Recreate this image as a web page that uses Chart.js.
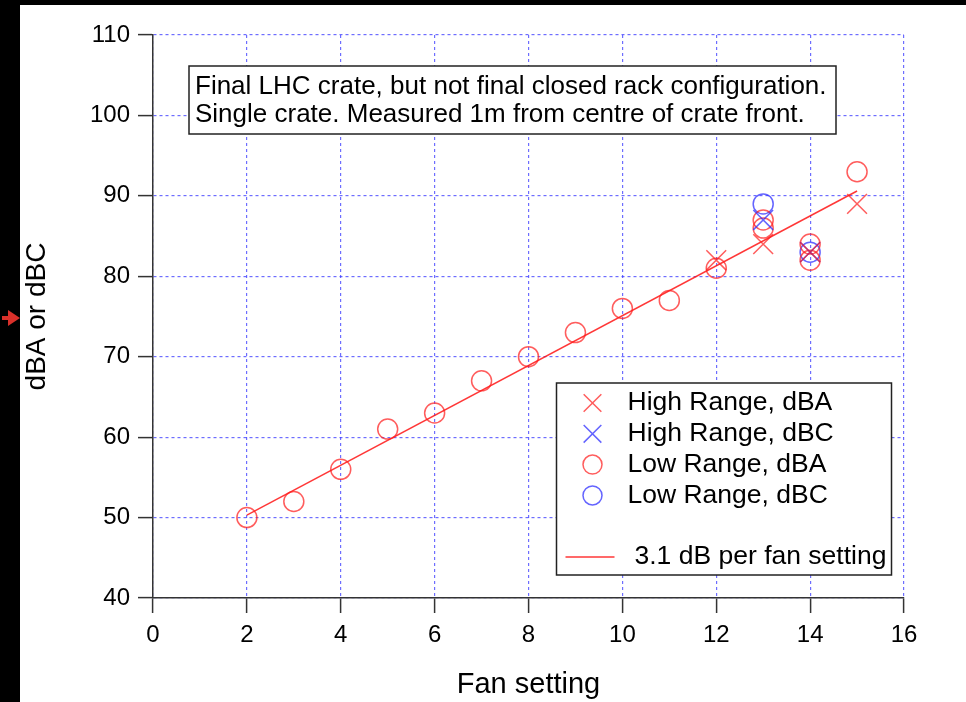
<!DOCTYPE html>
<html>
<head>
<meta charset="utf-8">
<script src="https://cdn.jsdelivr.net/npm/chart.js@4/dist/chart.umd.min.js"></script>
<style>
  html, body { margin: 0; padding: 0; background: #000; width: 966px; height: 702px; overflow: hidden; }
  #sheet { position: absolute; left: 20px; top: 5px; width: 946px; height: 697px; background: #fff; }
  #marker { position: absolute; left: 2px; top: 310px; width: 18px; height: 16px; }
  #marker .stem { position: absolute; left: 0; top: 6px; width: 7px; height: 4px; background: #d9302a; }
  #marker .head { position: absolute; left: 6px; top: 0; width: 0; height: 0;
    border-top: 8px solid transparent; border-bottom: 8px solid transparent; border-left: 12px solid #d9302a; }
</style>
</head>
<body>
<div id="marker"><div class="stem"></div><div class="head"></div></div>
<div id="sheet"><canvas id="c" width="946" height="697"></canvas></div>
<script>
// Fan setting vs. measured sound level
const xTicks = [0, 2, 4, 6, 8, 10, 12, 14, 16];
const yTicks = [40, 50, 60, 70, 80, 90, 100, 110];

const highAFan = [12, 13, 14, 15];
const highADb  = [82, 84, 83, 89];

const highCFan = [13, 14];
const highCDb  = [87, 83];

const lowAFan = [2, 3, 4, 5, 6, 7, 8, 9, 10, 11, 12, 13, 13, 14, 14, 15];
const lowADb  = [50, 52, 56, 61, 63, 67, 70, 73, 76, 77, 81, 87, 86, 84, 82, 93];

const lowCFan = [13, 14];
const lowCDb  = [89, 83];

// straight-line fit, 3.1 dB per fan step
const fitFan = [2, 15];
const fitDb  = [50.3, 90.6];

const noteLines = [
  'Final LHC crate, but not final closed rack configuration.',
  'Single crate. Measured 1m from centre of crate front.'
];

const labels = ['High Range, dBA', 'High Range, dBC', 'Low Range, dBA', 'Low Range, dBC', '3.1 dB per fan setting'];

const RED = 'rgba(255,30,30,0.72)';
const BLUE = 'rgba(40,40,255,0.72)';
const FONT = '"Liberation Sans", Arial, sans-serif';

const pts = (xs, ys) => xs.map((x, i) => ({x, y: ys[i]}));

// text box in the upper part of the plot
const noteBox = {
  id: 'noteBox',
  beforeDatasetsDraw(chart, args, o) {
    const ctx = chart.ctx;
    ctx.save();
    ctx.fillStyle = '#fff';
    ctx.fillRect(o.x, o.y, o.w, o.h);
    ctx.strokeStyle = '#222';
    ctx.lineWidth = 1.5;
    ctx.strokeRect(o.x, o.y, o.w, o.h);
    ctx.fillStyle = '#000';
    ctx.font = o.size + 'px ' + FONT;
    ctx.textBaseline = 'alphabetic';
    o.lines.forEach((t, i) => ctx.fillText(t, o.x + o.pad, o.y + o.first + i * o.lh));
    ctx.restore();
  }
};

// boxed legend inside the plot
const boxLegend = {
  id: 'boxLegend',
  beforeDatasetsDraw(chart, args, o) {
    const ctx = chart.ctx;
    ctx.save();
    ctx.fillStyle = '#fff';
    ctx.fillRect(o.x, o.y, o.w, o.h);
    ctx.strokeStyle = '#222';
    ctx.lineWidth = 1.5;
    ctx.strokeRect(o.x, o.y, o.w, o.h);
    ctx.font = o.size + 'px ' + FONT;
    ctx.textBaseline = 'middle';
    chart.data.datasets.forEach((ds, i) => {
      const isLine = ds.showLine;
      const row = isLine ? i + 1 : i;
      const cy = o.y + o.first + row * o.lh;
      ctx.save();
      if (isLine) {
        ctx.strokeStyle = ds.borderColor;
        ctx.lineWidth = ds.borderWidth;
        ctx.beginPath();
        ctx.moveTo(o.x + 9, cy);
        ctx.lineTo(o.x + 58, cy);
        ctx.stroke();
      } else {
        ctx.strokeStyle = ds.pointBorderColor;
        ctx.fillStyle = 'rgba(0,0,0,0)';
        ctx.lineWidth = ds.pointBorderWidth;
        Chart.helpers.drawPoint(ctx, {pointStyle: ds.pointStyle, radius: ds.pointStyle === 'crossRot' ? 12.5 : 9.5, rotation: 0, borderWidth: ds.pointBorderWidth}, o.x + 36, cy);
      }
      ctx.restore();
      ctx.fillStyle = '#000';
      ctx.fillText(ds.label, o.x + (isLine ? 78 : 71), cy);
    });
    ctx.restore();
  }
};

new Chart(document.getElementById('c'), {
  type: 'scatter',
  data: {
    datasets: [
      { label: labels[0], data: pts(highAFan, highADb), pointStyle: 'crossRot', pointRadius: 14,
        pointBorderColor: RED, pointBackgroundColor: 'rgba(0,0,0,0)', pointBorderWidth: 1.5 },
      { label: labels[1], data: pts(highCFan, highCDb), pointStyle: 'crossRot', pointRadius: 14,
        pointBorderColor: BLUE, pointBackgroundColor: 'rgba(0,0,0,0)', pointBorderWidth: 1.5 },
      { label: labels[2], data: pts(lowAFan, lowADb), pointStyle: 'circle', pointRadius: 10,
        pointBorderColor: RED, pointBackgroundColor: 'rgba(0,0,0,0)', pointBorderWidth: 1.5 },
      { label: labels[3], data: pts(lowCFan, lowCDb), pointStyle: 'circle', pointRadius: 10,
        pointBorderColor: BLUE, pointBackgroundColor: 'rgba(0,0,0,0)', pointBorderWidth: 1.5 },
      { label: labels[4], data: pts(fitFan, fitDb), showLine: true, pointRadius: 0,
        borderColor: 'rgba(255,20,20,0.85)', borderWidth: 1.5, fill: false, tension: 0 }
    ]
  },
  options: {
    responsive: false,
    animation: false,
    devicePixelRatio: 1,
    layout: { padding: { top: 30, right: 62, left: 0, bottom: 0 } },
    plugins: {
      legend: { display: false },
      tooltip: { enabled: false },
      noteBox: { x: 169, y: 61, w: 647, h: 68, pad: 6, first: 27.5, lh: 28.4, size: 26, lines: noteLines },
      boxLegend: { x: 536.5, y: 378, w: 335, h: 192, first: 20, lh: 30.8, size: 26.5 }
    },
    scales: {
      x: {
        type: 'linear', min: 0, max: 16,
        afterBuildTicks: s => { s.ticks = xTicks.map(v => ({value: v})); },
        afterFit: s => { s.height = 104; },
        ticks: { color: '#000', font: { family: FONT, size: 24 }, padding: 8 },
        grid: { color: 'rgba(60,60,255,0.75)', lineWidth: 1.2, tickLength: 15, tickColor: '#333', tickWidth: 1.5 },
        border: { color: '#333', width: 1.5, dash: [3, 3] },
        title: { display: true, text: 'Fan setting', color: '#000', font: { family: FONT, size: 29 }, padding: { top: 0, bottom: 0 } }
      },
      y: {
        type: 'linear', min: 40, max: 110,
        afterBuildTicks: s => { s.ticks = yTicks.map(v => ({value: v})); },
        afterFit: s => { s.width = 133; },
        ticks: { color: '#000', font: { family: FONT, size: 24 }, padding: 8 },
        grid: { color: 'rgba(60,60,255,0.75)', lineWidth: 1.2, tickLength: 15, tickColor: '#333', tickWidth: 1.5 },
        border: { color: '#333', width: 1.5, dash: [3, 3] },
        title: { display: true, text: 'dBA or dBC', color: '#000', font: { family: FONT, size: 28 }, padding: { top: 0, bottom: 0 } }
      }
    }
  },
  plugins: [noteBox, boxLegend]
});
</script>
</body>
</html>
